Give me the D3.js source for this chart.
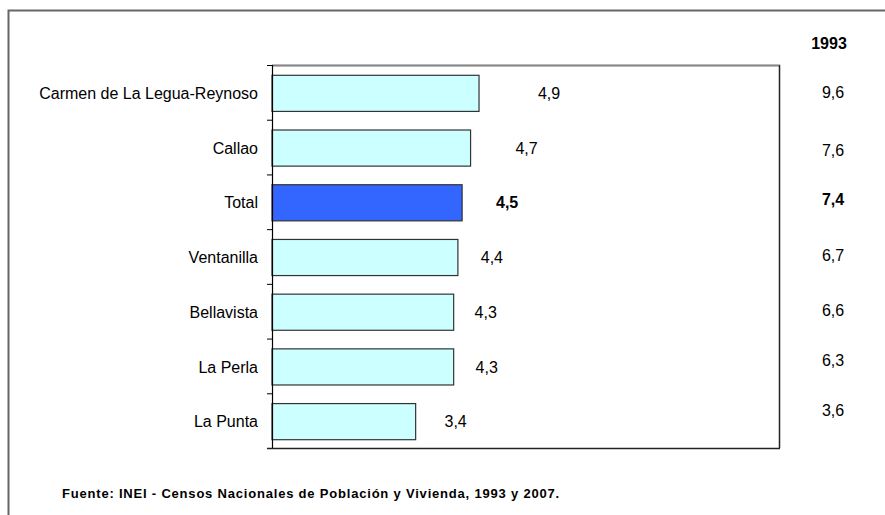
<!DOCTYPE html>
<html>
<head>
<meta charset="utf-8">
<script src="https://cdn.jsdelivr.net/npm/d3@7"></script>
<style>
  body { margin: 0; background: #fff; }
  svg text { font-family: "Liberation Sans Narrow", "Arial Narrow", "Liberation Sans", sans-serif; fill: #000; }
</style>
</head>
<body>
<svg id="chart" width="885" height="515"></svg>
<script>
// data
const districts = ["Carmen de La Legua-Reynoso", "Callao", "Total", "Ventanilla", "Bellavista", "La Perla", "La Punta"];
const values2007 = [4.9, 4.7, 4.5, 4.4, 4.3, 4.3, 3.4];
const values1993 = [9.6, 7.6, 7.4, 6.7, 6.6, 6.3, 3.6];
const yearLabel = "1993";
const source = "Fuente: INEI - Censos Nacionales de Población y Vivienda, 1993 y 2007.";

// hand placed value label offsets (px from bar end), as in the original
const labelDx = [70, 56, 45, 34, 32, 33, 40];
// the 1993 column drifts up a little toward the bottom
const col93Dy = [0, 3, -2, -1, -1, -6, -10];

const fmt = v => d3.format(".1f")(v).replace(".", ",");

const svg = d3.select("#chart");

// outer frame
svg.append("rect")
    .attr("x", 8.5).attr("y", 10.5)
    .attr("width", 900).attr("height", 520)
    .attr("fill", "none")
    .attr("stroke", "#666")
    .attr("stroke-width", 2);

const plot = { left: 272, right: 779, top: 65, bottom: 448 };

const x = d3.scaleLinear().domain([0, 12]).range([plot.left, plot.right]);
const y = d3.scaleBand().domain(districts).range([plot.top, plot.bottom]).paddingInner(0.34).paddingOuter(0.17);
const yTicks = d3.scaleBand().domain(districts).range([plot.top, plot.bottom]);

// plot area border
svg.append("path")
    .attr("d", `M${plot.left},${plot.top + 0.5}H${plot.right + 0.5}V${plot.bottom}`)
    .attr("fill", "none")
    .attr("stroke", "#222")
    .attr("stroke-width", 1.5);
svg.append("line")
    .attr("x1", plot.left).attr("x2", plot.right)
    .attr("y1", plot.top + 0.5).attr("y2", plot.top + 0.5)
    .attr("stroke", "#888").attr("stroke-width", 1.5);

// bars
svg.selectAll("rect.bar")
    .data(districts)
    .enter().append("rect")
    .attr("class", "bar")
    .attr("x", x(0))
    .attr("y", d => y(d) + 1)
    .attr("width", (d, i) => x(values2007[i]) - x(0))
    .attr("height", y.bandwidth())
    .attr("fill", d => d == "Total" ? "#3366ff" : "#ccffff")
    .attr("stroke", "#333")
    .attr("stroke-width", 1.2);

// category axis with ticks between bands
const axisG = svg.append("g");
axisG.append("line")
    .attr("x1", plot.left + 0.5).attr("x2", plot.left + 0.5)
    .attr("y1", plot.top).attr("y2", plot.bottom)
    .attr("stroke", "#000").attr("stroke-width", 1.2);
axisG.append("line")
    .attr("x1", plot.left - 5).attr("x2", plot.right + 1)
    .attr("y1", plot.bottom + 0.5).attr("y2", plot.bottom + 0.5)
    .attr("stroke", "#222").attr("stroke-width", 1.5);
axisG.selectAll("line.tick")
    .data(districts)
    .enter().append("line")
    .attr("class", "tick")
    .attr("x1", plot.left - 5).attr("x2", plot.left)
    .attr("y1", d => yTicks(d) + 0.5).attr("y2", d => yTicks(d) + 0.5)
    .attr("stroke", "#000");

axisG.selectAll("text.cat")
    .data(districts)
    .enter().append("text")
    .attr("class", "cat")
    .attr("x", 258)
    .attr("y", d => yTicks(d) + yTicks.bandwidth() / 2 + 1)
    .attr("dy", "0.35em")
    .attr("text-anchor", "end")
    .style("font-size", "16px")
    .text(d => d);

// 2007 value labels
svg.selectAll("text.v07")
    .data(districts)
    .enter().append("text")
    .attr("class", "v07")
    .attr("x", (d, i) => x(values2007[i]) + labelDx[i])
    .attr("y", d => y(d) + y.bandwidth() / 2 + 1)
    .attr("dy", "0.35em")
    .attr("text-anchor", "middle")
    .style("font-size", "16px")
    .style("font-weight", d => d == "Total" ? "bold" : "normal")
    .text((d, i) => fmt(values2007[i]));

// 1993 column
svg.append("text")
    .attr("x", 829).attr("y", 43)
    .attr("dy", "0.35em")
    .attr("text-anchor", "middle")
    .style("font-size", "16px")
    .style("font-weight", "bold")
    .text(yearLabel);

svg.selectAll("text.v93")
    .data(districts)
    .enter().append("text")
    .attr("class", "v93")
    .attr("x", 833)
    .attr("y", (d, i) => y(d) + y.bandwidth() / 2 + col93Dy[i])
    .attr("dy", "0.35em")
    .attr("text-anchor", "middle")
    .style("font-size", "16px")
    .style("font-weight", d => d == "Total" ? "bold" : "normal")
    .text((d, i) => fmt(values1993[i]));

// source note
svg.append("text")
    .attr("x", 62).attr("y", 493)
    .attr("dy", "0.35em")
    .style("font-family", "'Liberation Sans', Arial, sans-serif")
    .style("font-size", "13px")
    .style("font-weight", "bold")
    .style("letter-spacing", "0.8px")
    .text(source);
</script>
</body>
</html>
